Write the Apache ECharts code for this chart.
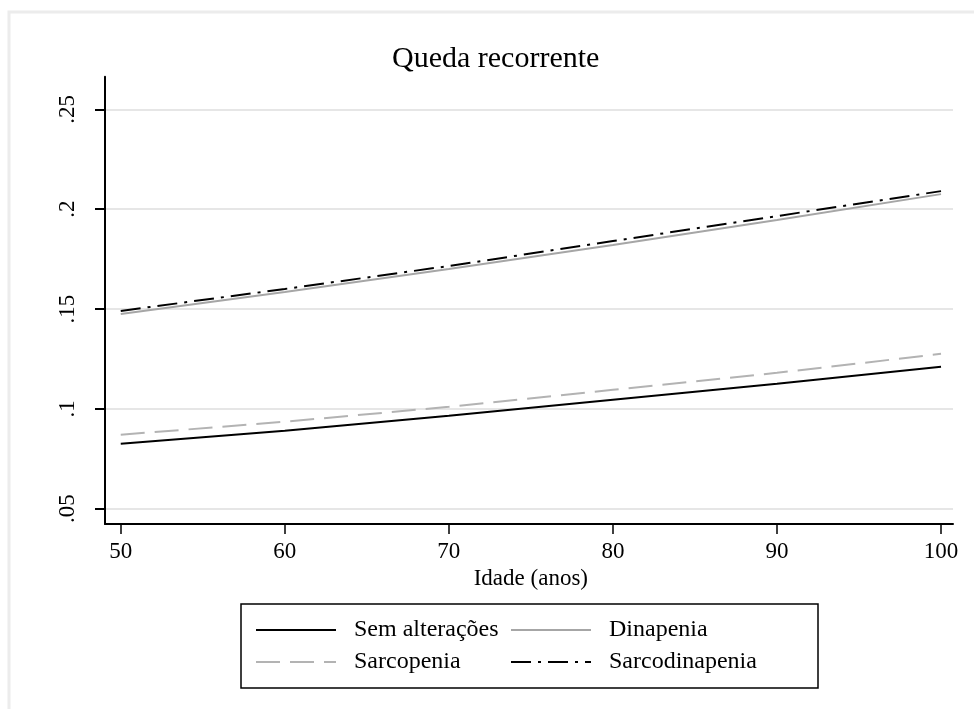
<!DOCTYPE html>
<html>
<head>
<meta charset="utf-8">
<script src="https://cdn.jsdelivr.net/npm/echarts@6/dist/echarts.min.js"></script>
<style>
html,body{margin:0;padding:0;background:#fff;}
#c{width:974px;height:709px;}
</style>
</head>
<body>
<div id="c"></div>
<script>
const ages = [50, 60, 70, 80, 90, 100];
const semAlteracoes = [0.0825, 0.0890, 0.0965, 0.1045, 0.1125, 0.1210];
const sarcopenia = [0.0870, 0.0935, 0.1010, 0.1095, 0.1180, 0.1275];
const dinapenia = [0.1475, 0.1585, 0.1700, 0.1820, 0.1945, 0.2075];
const sarcodinapenia = [0.1490, 0.1600, 0.1715, 0.1840, 0.1965, 0.2090];
const yTicks = [0.05, 0.10, 0.15, 0.20, 0.25];
const xTicks = [50, 60, 70, 80, 90, 100];
const seriesNames = ['Sem alterações', 'Dinapenia', 'Sarcopenia', 'Sarcodinapenia'];

const FONT = '"Liberation Serif", "Times New Roman", serif';
const pairs = vals => ages.map((a, i) => [a, vals[i]]);
const yLabel = v => {
  const s = String(+v.toFixed(2));
  return s.replace(/^0/, '');
};

const chart = echarts.init(document.getElementById('c'), null, {renderer: 'canvas'});
const legendCommon = {
  orient: 'vertical', top: 618, itemWidth: 80, itemHeight: 14, itemGap: 8, padding: 0,
  itemStyle: {opacity: 0},
  textStyle: {fontFamily: FONT, fontSize: 24, color: '#000', padding: [0, 0, 0, 13]}
};
const option = {
  backgroundColor: '#ffffff',
  animation: false,
  title: {
    text: 'Queda recorrente',
    left: 387, top: 39,
    textStyle: {fontFamily: FONT, fontSize: 30, fontWeight: 'normal', color: '#000'}
  },
  grid: [
    {left: 105, right: 21, top: 76.7, bottom: 185},
    {left: 105, right: 21, top: 109.3, bottom: 200.3},
    {left: 120.7, right: 33, top: 76.7, bottom: 185}
  ],
  xAxis: [
    {gridIndex: 0, type: 'value', min: 49.04, max: 100.73,
     axisLine: {show: true, lineStyle: {color: '#000', width: 2}},
     axisTick: {show: false}, axisLabel: {show: false}, splitLine: {show: false}},
    {gridIndex: 1, type: 'value', min: 0, max: 1, show: false},
    {gridIndex: 2, type: 'value', min: 50, max: 100, interval: 10,
     axisLine: {show: false},
     axisTick: {show: true, length: 10, lineStyle: {color: '#000', width: 1.5}},
     axisLabel: {show: true, margin: 16, fontFamily: FONT, fontSize: 23, color: '#000'},
     splitLine: {show: false},
     name: 'Idade (anos)', nameLocation: 'middle', nameGap: 42,
     nameTextStyle: {fontFamily: FONT, fontSize: 23, color: '#000'}}
  ],
  yAxis: [
    {gridIndex: 0, type: 'value', min: 0.0423, max: 0.2663,
     axisLine: {show: true, lineStyle: {color: '#000', width: 2}},
     axisTick: {show: false}, axisLabel: {show: false}, splitLine: {show: false}},
    {gridIndex: 1, type: 'value', min: 0.05, max: 0.25, interval: 0.05,
     axisLine: {show: false},
     axisTick: {show: true, length: 10, lineStyle: {color: '#000', width: 2}},
     axisLabel: {show: true, rotate: 90, margin: 26, fontFamily: FONT, fontSize: 23, color: '#000',
       formatter: yLabel},
     splitLine: {show: true, lineStyle: {color: '#e6e6e6', width: 2}}},
    {gridIndex: 2, type: 'value', min: 0, max: 1, show: false}
  ],
  legend: [
    Object.assign({left: 255, data: [seriesNames[0], seriesNames[2]]}, legendCommon),
    Object.assign({left: 510, data: [seriesNames[1], seriesNames[3]]}, legendCommon)
  ],
  graphic: [
    {type: 'polyline', shape: {points: [[9, 1000], [9, 12], [1000, 12]]},
     style: {stroke: '#ececec', lineWidth: 3, fill: null}, silent: true},
    {type: 'rect', shape: {x: 241, y: 604, width: 577, height: 84},
     style: {stroke: '#000', lineWidth: 1.5, fill: null}, silent: true}
  ],
  series: [
    {name: seriesNames[0], type: 'line', xAxisIndex: 0, yAxisIndex: 0, data: pairs(semAlteracoes),
     symbol: 'none', lineStyle: {color: '#000', width: 2, type: 'solid'}, itemStyle: {color: '#000'}},
    {name: seriesNames[1], type: 'line', xAxisIndex: 0, yAxisIndex: 0, data: pairs(dinapenia),
     symbol: 'none', lineStyle: {color: '#a6a6a6', width: 2, type: 'solid'}, itemStyle: {color: '#a6a6a6'}},
    {name: seriesNames[2], type: 'line', xAxisIndex: 0, yAxisIndex: 0, data: pairs(sarcopenia),
     symbol: 'none', lineStyle: {color: '#b3b3b3', width: 2, type: [24, 10]}, itemStyle: {color: '#b3b3b3'}},
    {name: seriesNames[3], type: 'line', xAxisIndex: 0, yAxisIndex: 0, data: pairs(sarcodinapenia),
     symbol: 'none', lineStyle: {color: '#000', width: 2, type: [20, 7, 3, 7]}, itemStyle: {color: '#000'}}
  ]
};
chart.setOption(option);
</script>
</body>
</html>
